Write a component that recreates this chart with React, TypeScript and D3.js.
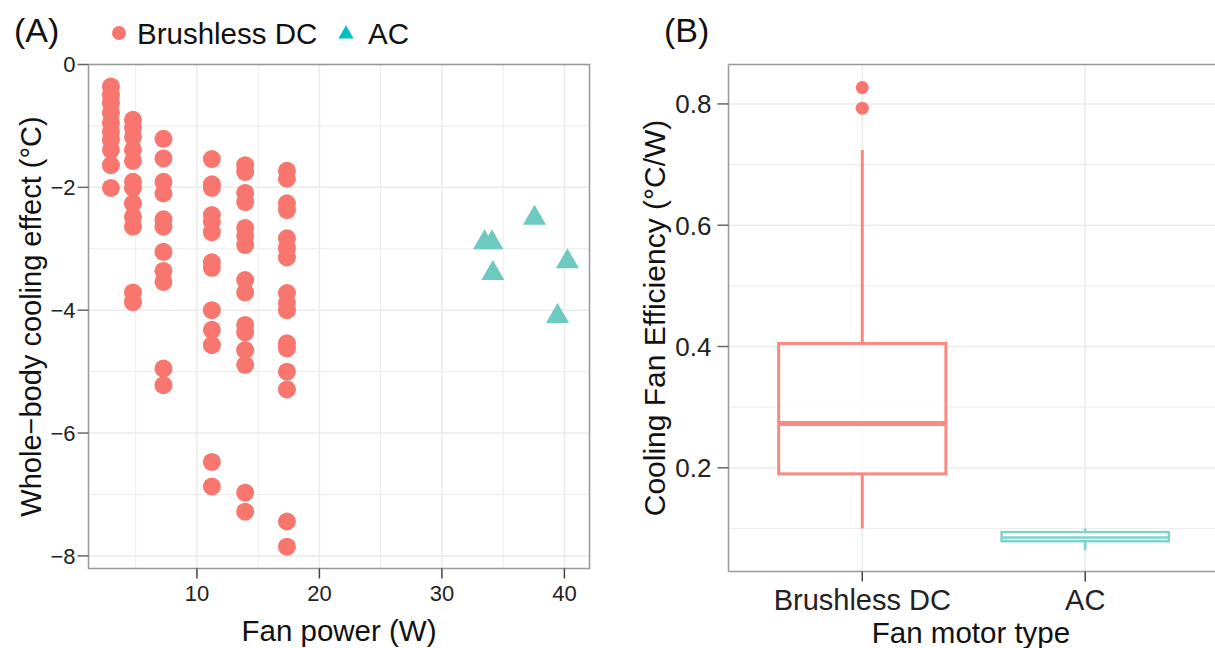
import React from "react";
import * as d3 from "d3";

// ---------- Panel A data ----------
const dcPowerLevels = [2.98, 4.78, 7.27, 11.22, 13.94, 17.35];
const dcCooling: number[][] = [
  [-0.36, -0.5, -0.63, -0.79, -0.95, -1.1, -1.23, -1.39, -1.64, -2.01],
  [-0.9, -1.03, -1.18, -1.39, -1.57, -1.91, -2.01, -2.26, -2.48, -2.64, -3.71, -3.87],
  [-1.21, -1.53, -1.91, -2.1, -2.52, -2.64, -3.05, -3.36, -3.54, -4.95, -5.22],
  [-1.54, -1.95, -2.01, -2.45, -2.56, -2.73, -3.22, -3.31, -4.0, -4.32, -4.57, -6.47, -6.87],
  [-1.64, -1.75, -2.09, -2.24, -2.66, -2.79, -2.94, -3.51, -3.71, -4.24, -4.36, -4.65, -4.89, -6.97, -7.28],
  [-1.73, -1.86, -2.26, -2.37, -2.83, -2.99, -3.14, -3.72, -3.88, -4.0, -4.54, -4.62, -5.0, -5.29, -7.44, -7.85],
];
const acPower = [37.56, 33.48, 34.08, 34.16, 40.25, 39.44];
const acCooling = [-2.5, -2.9, -2.9, -3.4, -3.21, -4.1];
const xTicksA = [10, 20, 30, 40];
const xMinorA = [5, 15, 25, 35];
const yTicksA = [0, -2, -4, -6, -8];
const yMinorA = [-1, -3, -5, -7];
const legendLabels = ["Brushless DC", "AC"];

// ---------- Panel B data ----------
const motorTypes = ["Brushless DC", "AC"];
const boxLower = [0.1, 0.064];
const boxQ1 = [0.19, 0.079];
const boxMedian = [0.273, 0.085];
const boxQ3 = [0.405, 0.094];
const boxUpper = [0.724, 0.1];
const dcOutliers = [0.793, 0.827];
const yTicksB = [0.2, 0.4, 0.6, 0.8];
const yMinorB = [0.1, 0.3, 0.5, 0.7];

const RED = "#F8766D";
const TEAL = "#00BFC4";
const TEAL_PT = "#6CCAC0";
const FONT = "'Liberation Sans', Arial, Helvetica, sans-serif";
const GRID = "#EBEBEB";

export default function App() {
  // Panel A geometry
  const aL = 88.5, aR = 589.5, aT = 64.5, aB = 568.5;
  const xA = d3.scaleLinear().domain([1.15, 42.05]).range([aL, aR]);
  const yA = d3.scaleLinear().domain([-8.205, 0]).range([aB, aT]);

  // Panel B geometry
  const bL = 728.5, bR = 1219, bT = 64.5, bB = 571.5;
  const xBp = d3.scalePoint().domain(motorTypes).range([bL, bR]).padding(0.6);
  const step = xBp.step();
  const boxW = step * 0.75;
  const yB = d3.scaleLinear().domain([0.029, 0.865]).range([bB, bT]);

  const tri = d3.symbol().type(d3.symbolTriangle).size(231)();
  const triLegend = d3.symbol().type(d3.symbolTriangle).size(100)();

  const dcPoints: [number, number][] = [];
  dcPowerLevels.forEach((p, i) => dcCooling[i].forEach((c) => dcPoints.push([p, c])));

  const fmtA = (v: number) => (v < 0 ? "\u2212" + Math.abs(v) : String(v));

  return (
    <svg width={1215} height={648} style={{ display: "block", position: "absolute", left: 0, top: 0 }} fontFamily={FONT}>
      <rect width={1215} height={648} fill="#fff" />
      {/* ---------- Panel A ---------- */}
      <g>
        {xMinorA.map((t) => (
          <line key={"xm" + t} x1={xA(t)} x2={xA(t)} y1={aT} y2={aB} stroke={GRID} strokeWidth={1} />
        ))}
        {yMinorA.map((t) => (
          <line key={"ym" + t} x1={aL} x2={aR} y1={yA(t)} y2={yA(t)} stroke={GRID} strokeWidth={1} />
        ))}
        {xTicksA.map((t) => (
          <line key={"xg" + t} x1={xA(t)} x2={xA(t)} y1={aT} y2={aB} stroke={GRID} strokeWidth={1.5} />
        ))}
        {yTicksA.map((t) => (
          <line key={"yg" + t} x1={aL} x2={aR} y1={yA(t)} y2={yA(t)} stroke={GRID} strokeWidth={1.5} />
        ))}
        {dcPoints.map(([p, c], i) => (
          <circle key={"dc" + i} cx={xA(p)} cy={yA(c)} r={9} fill={RED} />
        ))}
        {acPower.map((p, i) => (
          <path key={"ac" + i} d={tri as string} transform={`translate(${xA(p)},${yA(acCooling[i])})`} fill={TEAL_PT} />
        ))}
        <rect x={aL} y={aT} width={aR - aL} height={aB - aT} fill="none" stroke="#999" strokeWidth={1.5} />
        {yTicksA.map((t) => (
          <g key={"yt" + t}>
            <line x1={aL - 11} x2={aL} y1={yA(t)} y2={yA(t)} stroke="#666" strokeWidth={1.5} />
            <text x={aL - 13} y={yA(t)} dy="0.36em" textAnchor="end" fontSize={22} fill="#222">
              {fmtA(t)}
            </text>
          </g>
        ))}
        {xTicksA.map((t) => (
          <g key={"xt" + t}>
            <line x1={xA(t)} x2={xA(t)} y1={aB} y2={aB + 10} stroke="#444" strokeWidth={1.5} />
            <text x={xA(t)} y={aB + 32} textAnchor="middle" fontSize={22} fill="#222">
              {t}
            </text>
          </g>
        ))}
        <text x={(aL + aR) / 2} y={641} textAnchor="middle" fontSize={29.5} fill="#111">
          Fan power (W)
        </text>
        <text transform={`translate(41,${(aT + aB) / 2}) rotate(-90)`} textAnchor="middle" fontSize={29} fill="#111">
          Whole{"\u2212"}body cooling effect (°C)
        </text>
        <text x={14} y={42} fontSize={34} fill="#111">(A)</text>
        {/* legend */}
        <circle cx={119} cy={33} r={7} fill={RED} />
        <text x={137} y={44} fontSize={29.5} fill="#111">{legendLabels[0]}</text>
        <path d={triLegend as string} transform="translate(346,34)" fill={TEAL} />
        <text x={368} y={44} fontSize={29.5} fill="#111">{legendLabels[1]}</text>
      </g>

      {/* ---------- Panel B ---------- */}
      <g>
        {yMinorB.map((t) => (
          <line key={"bm" + t} x1={bL} x2={bR} y1={yB(t)} y2={yB(t)} stroke={GRID} strokeWidth={1} />
        ))}
        {yTicksB.map((t) => (
          <line key={"bg" + t} x1={bL} x2={bR} y1={yB(t)} y2={yB(t)} stroke={GRID} strokeWidth={1.5} />
        ))}
        {motorTypes.map((m) => (
          <line key={"bx" + m} x1={xBp(m)!} x2={xBp(m)!} y1={bT} y2={bB} stroke={GRID} strokeWidth={1.5} />
        ))}
        {motorTypes.map((m, i) => {
          const cx = xBp(m)!;
          const col = i === 0 ? RED : "#5FC9BF";
          const sw = i === 0 ? 3 : 2.5;
          return (
            <g key={"box" + m} opacity={i === 0 ? 0.85 : 0.8}>
              <line x1={cx} x2={cx} y1={yB(boxQ3[i])} y2={yB(boxUpper[i])} stroke={col} strokeWidth={sw} />
              <line x1={cx} x2={cx} y1={yB(boxQ1[i])} y2={yB(boxLower[i])} stroke={col} strokeWidth={sw} />
              <rect x={cx - boxW / 2} y={yB(boxQ3[i])} width={boxW} height={yB(boxQ1[i]) - yB(boxQ3[i])} fill="#fff" stroke={col} strokeWidth={sw} />
              <line x1={cx - boxW / 2} x2={cx + boxW / 2} y1={yB(boxMedian[i])} y2={yB(boxMedian[i])} stroke={col} strokeWidth={i === 0 ? 5 : 2.5} />
            </g>
          );
        })}
        {dcOutliers.map((v, i) => (
          <circle key={"out" + i} cx={xBp(motorTypes[0])!} cy={yB(v)} r={6.5} fill={RED} />
        ))}
        <line x1={bL} x2={bR} y1={bT} y2={bT} stroke="#999" strokeWidth={1.5} />
        <line x1={bL} x2={bL} y1={bT} y2={bB} stroke="#999" strokeWidth={1.5} />
        <line x1={bL} x2={bR} y1={bB} y2={bB} stroke="#999" strokeWidth={1.5} />
        {yTicksB.map((t) => (
          <g key={"byt" + t}>
            <line x1={bL - 11} x2={bL} y1={yB(t)} y2={yB(t)} stroke="#666" strokeWidth={1.5} />
            <text x={bL - 17} y={yB(t)} dy="0.36em" textAnchor="end" fontSize={26} fill="#222">
              {t.toFixed(1)}
            </text>
          </g>
        ))}
        {motorTypes.map((m) => (
          <g key={"bxt" + m}>
            <line x1={xBp(m)!} x2={xBp(m)!} y1={bB} y2={bB + 10} stroke="#444" strokeWidth={1.5} />
            <text x={xBp(m)!} y={bB + 38} textAnchor="middle" fontSize={29} fill="#222">
              {m}
            </text>
          </g>
        ))}
        <text x={971} y={643} textAnchor="middle" fontSize={29.5} fill="#111">
          Fan motor type
        </text>
        <text transform={`translate(665,${(bT + bB) / 2}) rotate(-90)`} textAnchor="middle" fontSize={30} fill="#111">
          Cooling Fan Efficiency (°C/W)
        </text>
        <text x={664} y={42} fontSize={34} fill="#111">(B)</text>
      </g>
    </svg>
  );
}
